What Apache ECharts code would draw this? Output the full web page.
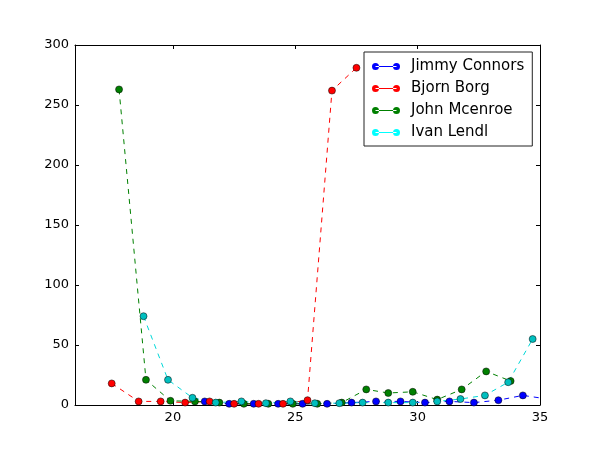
<!DOCTYPE html>
<html>
<head>
<meta charset="utf-8">
<script src="https://cdn.jsdelivr.net/npm/echarts@6/dist/echarts.min.js"></script>
<style>
  html, body { margin: 0; padding: 0; background: #fff; }
  #main { width: 600px; height: 450px; }
</style>
</head>
<body>
<div id="main"></div>
<script>
// players (x = age, y = value)
const names = ["Jimmy Connors", "Bjorn Borg", "John Mcenroe", "Ivan Lendl"];
const colors = ["#0000ff", "#ff0000", "#008000", "#00bfbf"];
const legendColors = ["#0000ff", "#ff0000", "#008000", "#00ffff"];

const connorsX = [21.3, 22.3, 23.3, 24.3, 25.3, 26.3, 27.3, 28.3, 29.3, 30.3, 31.3, 32.3, 33.3, 34.3, 35.3];
const connorsY = [3, 1, 1, 1, 1, 1, 2, 3, 3, 2, 3, 2, 4, 8, 5];

const borgX = [17.5, 18.6, 19.5, 20.5, 21.5, 22.5, 23.5, 24.5, 25.5, 26.5, 27.5];
const borgY = [18, 3, 3, 2, 3, 1, 1, 1, 4, 262, 281];

const mcenroeX = [17.8, 18.9, 19.9, 20.9, 21.9, 22.9, 23.9, 24.9, 25.9, 26.9, 27.9, 28.8, 29.8, 30.8, 31.8, 32.8, 33.8];
const mcenroeY = [263, 21, 3.5, 3, 2, 1, 1, 1, 1, 2, 13, 10, 11, 4.5, 13, 28, 20];

const lendlX = [18.8, 19.8, 20.8, 21.75, 22.8, 23.8, 24.8, 25.8, 26.8, 27.75, 28.8, 29.8, 30.8, 31.75, 32.75, 33.7, 34.7];
const lendlY = [74, 21, 6, 2, 3, 1.5, 3, 1.5, 1.5, 2, 2, 2, 3, 5, 8, 19, 55];

const xTicks = [20, 25, 30, 35];

const allX = [connorsX, borgX, mcenroeX, lendlX];
const allY = [connorsY, borgY, mcenroeY, lendlY];

// two markers joined by a line, like the matplotlib legend handle
const legendIcon = 'path://M0,3.5a3.5,3.5 0 1,0 7,0a3.5,3.5 0 1,0 -7,0Z' +
  'M21,3.5a3.5,3.5 0 1,0 7,0a3.5,3.5 0 1,0 -7,0Z' +
  'M3.5,3L24.5,3L24.5,4L3.5,4Z';

const myChart = echarts.init(document.getElementById('main'), null, { renderer: 'canvas' });

const xCommon = {
  type: 'value', min: 16, max: 35,
  axisLine: { show: true, onZero: false, lineStyle: { color: '#000', width: 1 } },
  axisTick: { show: true, inside: true, length: 4, customValues: xTicks, lineStyle: { color: '#000' } },
  splitLine: { show: false }
};
const yCommon = {
  type: 'value', min: 0, max: 300, interval: 50,
  axisLine: { show: true, onZero: false, lineStyle: { color: '#000', width: 1 } },
  axisTick: { show: true, inside: true, length: 4, lineStyle: { color: '#000' } },
  splitLine: { show: false }
};

const option = {
  animation: false,
  backgroundColor: '#fff',
  textStyle: { fontFamily: 'DejaVu Sans' },
  grid: { left: 75, right: 60, top: 45, bottom: 45, containLabel: false },
  legend: {
    orient: 'vertical',
    left: 364, top: 52,
    padding: [7, 8, 6, 8],
    itemGap: 7,
    itemWidth: 28, itemHeight: 7,
    backgroundColor: '#fff',
    borderColor: '#222', borderWidth: 1, borderRadius: 0,
    textStyle: { fontSize: 15, color: '#000', fontFamily: 'DejaVu Sans', padding: [0, 0, 0, 6] },
    data: names.map((n, i) => ({
      name: n, icon: legendIcon,
      itemStyle: { color: legendColors[i], borderWidth: 0 }
    }))
  },
  xAxis: [
    Object.assign({}, xCommon, {
      position: 'bottom',
      axisLabel: { show: true, customValues: xTicks, color: '#000', fontSize: 13, margin: 6, fontFamily: 'DejaVu Sans' }
    }),
    Object.assign({}, xCommon, { position: 'top', axisLabel: { show: false } })
  ],
  yAxis: [
    Object.assign({}, yCommon, {
      position: 'left',
      axisLabel: { show: true, color: '#000', fontSize: 13, margin: 6, fontFamily: 'DejaVu Sans' }
    }),
    Object.assign({}, yCommon, { position: 'right', axisLabel: { show: false } })
  ],
  series: names.map((n, i) => ({
    name: n,
    type: 'line',
    xAxisIndex: 0, yAxisIndex: 0,
    data: allX[i].map((x, k) => [x, allY[i][k]]),
    symbol: 'circle',
    symbolSize: 7,
    clip: true,
    itemStyle: { color: colors[i], borderColor: '#000', borderWidth: 0.5 },
    lineStyle: { color: i === 3 ? '#00d8d8' : colors[i], width: 1, type: [5, 5] },
    emphasis: { disabled: true }
  }))
};

myChart.setOption(option);
</script>
</body>
</html>
